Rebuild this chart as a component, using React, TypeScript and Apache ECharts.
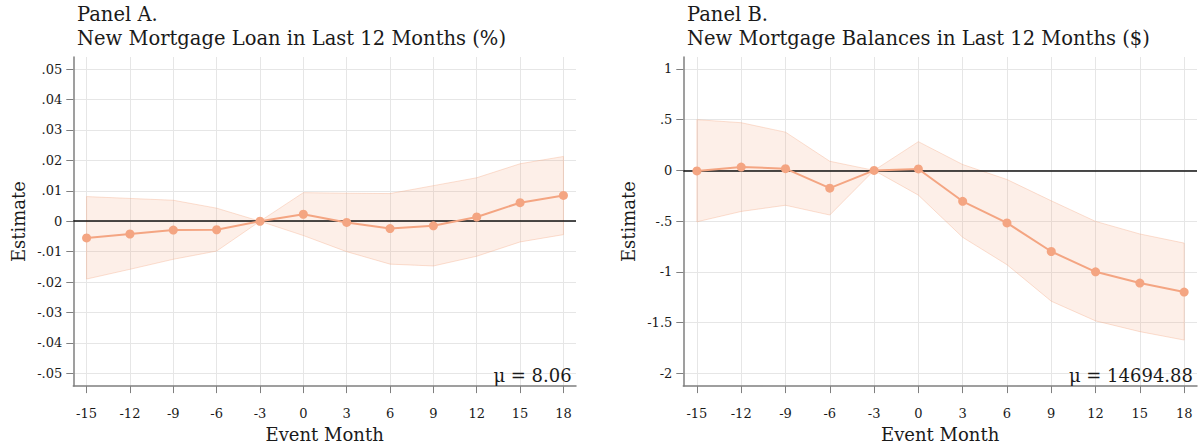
import React, { useEffect, useRef } from "react";
import * as echarts from "echarts";

const months = [-15, -12, -9, -6, -3, 0, 3, 6, 9, 12, 15, 18];

const estA = [-0.0055, -0.0042, -0.0029, -0.0028, 0, 0.0023, -0.0004, -0.0024, -0.0015, 0.0014, 0.0061, 0.0085];
const upA = [0.0081, 0.0075, 0.0069, 0.0043, 0, 0.0094, 0.0092, 0.0091, 0.0117, 0.0143, 0.0189, 0.0213];
const loA = [-0.019, -0.0158, -0.0125, -0.0098, 0, -0.0047, -0.01, -0.0141, -0.0147, -0.0115, -0.0068, -0.0044];

const estB = [-0.005, 0.033, 0.017, -0.175, 0, 0.014, -0.305, -0.518, -0.8, -1.0, -1.111, -1.2];
const upB = [0.5, 0.47, 0.377, 0.09, 0, 0.283, 0.058, -0.09, -0.3, -0.503, -0.627, -0.717];
const loB = [-0.507, -0.405, -0.344, -0.44, 0, -0.244, -0.66, -0.93, -1.29, -1.484, -1.59, -1.673];

const yTicksA = [-0.05, -0.04, -0.03, -0.02, -0.01, 0, 0.01, 0.02, 0.03, 0.04, 0.05];
const yTicksB = [-2, -1.5, -1, -0.5, 0, 0.5, 1];

const titleA = "Panel A.\nNew Mortgage Loan in Last 12 Months (%)";
const titleB = "Panel B.\nNew Mortgage Balances in Last 12 Months ($)";
const muA = "μ = 8.06";
const muB = "μ = 14694.88";

const SERIF = "DejaVu Serif";
const LINE = "#F4A582";
const BAND_FILL = "rgba(244,165,130,0.18)";
const BAND_EDGE = "rgba(244,165,130,0.35)";
const GRID_LINE = "#e6e6e6";
const AXIS_GRAY = "#7f7f7f";
const TEXT = "#1a1a1a";

const fmtTick = (v: number) => {
  if (v === 0) return "0";
  const s = String(Math.round(v * 1000) / 1000);
  return s.replace(/^(-?)0\./, "$1.");
};

function xAxisFor(gridIndex: number) {
  return {
    type: "value",
    gridIndex,
    min: -15.92,
    max: 18.87,
    name: "Event Month",
    nameLocation: "middle",
    nameGap: 37,
    nameTextStyle: { fontFamily: SERIF, fontSize: 18, color: TEXT },
    axisLine: { show: true, onZero: false, lineStyle: { color: AXIS_GRAY, width: 1.5 } },
    axisTick: { show: true, length: 7, customValues: months, lineStyle: { color: AXIS_GRAY, width: 1 } },
    axisLabel: {
      customValues: months,
      margin: 21,
      fontFamily: SERIF,
      fontSize: 13,
      color: TEXT,
      formatter: (v: number) => String(v),
    },
    splitLine: { show: true, lineStyle: { color: GRID_LINE, width: 1 } },
  };
}

function yAxisFor(gridIndex: number, min: number, max: number, ticks: number[]) {
  return {
    type: "value",
    gridIndex,
    min,
    max,
    name: "Estimate",
    nameLocation: "middle",
    nameGap: 46,
    nameTextStyle: { fontFamily: SERIF, fontSize: 18, color: TEXT },
    axisLine: { show: true, onZero: false, lineStyle: { color: AXIS_GRAY, width: 1.5 } },
    axisTick: { show: true, length: 7, customValues: ticks, lineStyle: { color: AXIS_GRAY, width: 1 } },
    axisLabel: {
      customValues: ticks,
      margin: 11,
      fontFamily: SERIF,
      fontSize: 13,
      color: TEXT,
      formatter: (v: number) => fmtTick(v),
    },
    splitLine: { show: true, lineStyle: { color: GRID_LINE, width: 1 } },
  };
}

function seriesFor(idx: number, est: number[], up: number[], lo: number[]) {
  return [
    {
      type: "custom",
      xAxisIndex: idx,
      yAxisIndex: idx,
      silent: true,
      z: 1,
      encode: { x: 0, y: [1, 2] },
      data: months.map((m, i) => [m, lo[i], up[i]]),
      renderItem: (params: any, api: any) => {
        if (params.dataIndex !== 0) return null;
        const top = months.map((m, i) => api.coord([m, up[i]]));
        const bottom = months.map((m, i) => api.coord([m, lo[i]])).reverse();
        return {
          type: "polygon",
          shape: { points: top.concat(bottom) },
          style: { fill: BAND_FILL, stroke: BAND_EDGE, lineWidth: 1 },
        };
      },
    },
    {
      type: "line",
      xAxisIndex: idx,
      yAxisIndex: idx,
      data: months.map((m, i) => [m, est[i]]),
      symbol: "circle",
      symbolSize: 9,
      itemStyle: { color: LINE },
      lineStyle: { color: LINE, width: 2 },
      z: 3,
      markLine: {
        silent: true,
        symbol: "none",
        label: { show: false },
        lineStyle: { color: "#111", width: 1.5, type: "solid" },
        data: [{ yAxis: 0 }],
        z: 2,
      },
    },
  ];
}

export default function App() {
  const ref = useRef<HTMLDivElement>(null);
  useEffect(() => {
    if (!ref.current) return;
    const chart = echarts.init(ref.current, undefined, { renderer: "svg" });
    const titleStyle = { fontFamily: SERIF, fontSize: 19.5, fontWeight: "normal", color: TEXT, lineHeight: 24 };
    const option: any = {
      animation: false,
      backgroundColor: "#ffffff",
      textStyle: { fontFamily: SERIF },
      title: [
        { text: titleA, left: 77, top: 2, padding: 0, textStyle: titleStyle },
        { text: titleB, left: 687, top: 2, padding: 0, textStyle: titleStyle },
      ],
      grid: [
        { left: 73.3, top: 57, width: 502.7, height: 333, containLabel: false },
        { left: 683.3, top: 57, width: 513.7, height: 333, containLabel: false },
      ],
      xAxis: [xAxisFor(0), xAxisFor(1)],
      yAxis: [yAxisFor(0, -0.0542, 0.054, yTicksA), yAxisFor(1, -2.127, 1.118, yTicksB)],
      series: [...seriesFor(0, estA, upA, loA), ...seriesFor(1, estB, upB, loB)],
      graphic: [
        {
          type: "text",
          x: 571.7,
          y: 375,
          z: 10,
          style: { text: muA, fontFamily: SERIF, fontSize: 18, fill: TEXT, textAlign: "right", textVerticalAlign: "middle" },
        },
        {
          type: "text",
          x: 1193,
          y: 375,
          z: 10,
          style: { text: muB, fontFamily: SERIF, fontSize: 18, fill: TEXT, textAlign: "right", textVerticalAlign: "middle" },
        },
      ],
    };
    chart.setOption(option);
    return () => chart.dispose();
  }, []);
  return (
    <div
      ref={ref}
      style={{ position: "fixed", left: 0, top: 0, width: 1201, height: 448, background: "#fff" }}
    />
  );
}
